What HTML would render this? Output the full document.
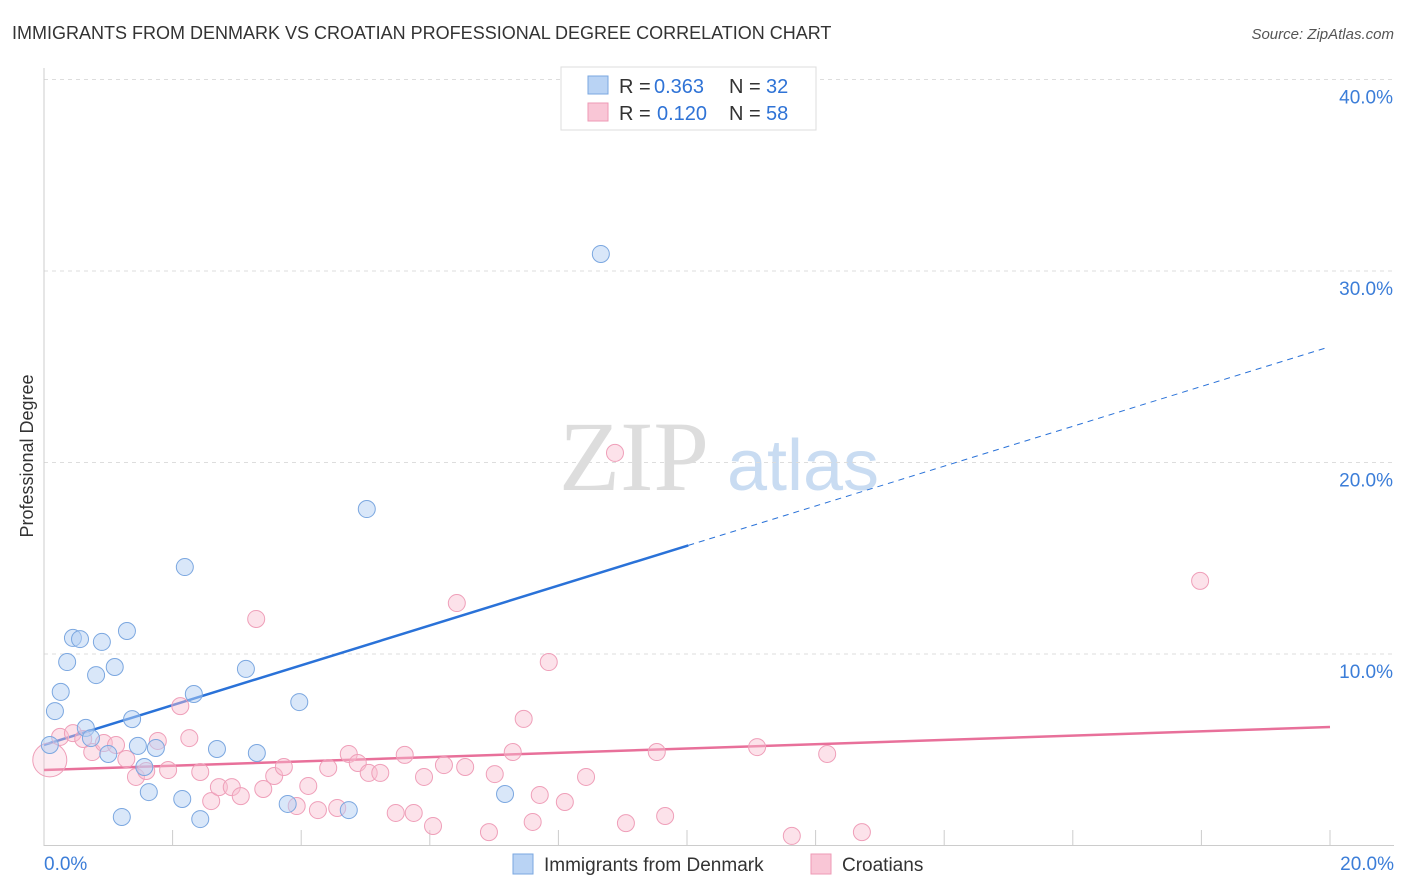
<!DOCTYPE html>
<html><head><meta charset="utf-8"><style>
body{margin:0;background:#fff;font-family:"Liberation Sans",sans-serif;}
#wrap{position:relative;width:1406px;height:892px;overflow:hidden;}
</style></head><body>
<div id="wrap">
<svg id="chart" width="1406" height="892">
<text x="12" y="39" font-size="18" fill="#333">IMMIGRANTS FROM DENMARK VS CROATIAN PROFESSIONAL DEGREE CORRELATION CHART</text>
<text x="1394" y="39" font-size="15" fill="#555" font-style="italic" text-anchor="end">Source: ZipAtlas.com</text>
<text x="33" y="456" font-size="18" fill="#333" text-anchor="middle" transform="rotate(-90 33 456)">Professional Degree</text>
<g>
<text x="634" y="490" font-size="100" fill="#ddd" font-family="Liberation Serif,serif" text-anchor="middle">ZIP</text>
<text x="803" y="490" font-size="72" fill="#c9dcf2" text-anchor="middle">atlas</text>
</g>
<g id="grid"></g><g id="axes"></g><g id="lines"></g><g id="pts"></g>
<g>
<rect x="561" y="67" width="255" height="63" fill="#fff" stroke="#ddd"/>
<rect x="588" y="76" width="20" height="18" fill="#b9d3f4" stroke="#7aa7e0"/>
<rect x="588" y="103" width="20" height="18" fill="#f9c6d6" stroke="#ee9ab5"/>
<text x="619" y="93" font-size="20" fill="#333">R =</text><text x="654" y="93" font-size="20" fill="#2f73d6">0.363</text>
<text x="729" y="93" font-size="20" fill="#333">N =</text><text x="766" y="93" font-size="20" fill="#2f73d6">32</text>
<text x="619" y="120" font-size="20" fill="#333">R =</text><text x="657" y="120" font-size="20" fill="#2f73d6">0.120</text>
<text x="729" y="120" font-size="20" fill="#333">N =</text><text x="766" y="120" font-size="20" fill="#2f73d6">58</text>
</g>
<g>
<rect x="513" y="854" width="20" height="20" fill="#b9d3f4" stroke="#7aa7e0"/>
<text x="544" y="871" font-size="19" fill="#333">Immigrants from Denmark</text>
<rect x="811" y="854" width="20" height="20" fill="#f9c6d6" stroke="#ee9ab5"/>
<text x="842" y="871" font-size="19" fill="#333">Croatians</text>
</g>
</svg>
</div>
<script>
const yTicks=[10,20,30,40];
const yTickLabels=["10.0%","20.0%","30.0%","40.0%"];
const xTickLabels=["0.0%","20.0%"];
const blueX=[.09,.17,.26,.36,.45,.56,.81,.9,1.0,1.1,1.29,1.37,1.46,1.56,1.63,1.74,2.19,2.15,2.33,2.43,2.69,3.14,3.31,3.79,3.97,4.74,5.02,7.17,8.66,1.21,.65,.73];
const blueY=[5.25,7.02,8.02,9.58,10.84,10.78,8.9,10.63,4.78,9.32,11.2,6.6,5.2,4.1,2.79,5.09,14.54,2.43,7.91,1.38,5.04,9.22,4.83,2.17,7.49,1.85,17.57,2.69,30.89,1.49,6.14,5.61];
const pinkX=[.09,.25,.45,.75,.61,.93,1.12,1.28,1.43,1.59,1.77,1.93,2.12,2.26,2.43,2.6,2.72,2.92,3.06,3.3,3.41,3.58,3.73,3.93,4.11,4.26,4.42,4.56,4.74,4.88,5.05,5.23,5.47,5.61,5.75,5.91,6.05,6.22,6.42,6.55,6.92,7.01,7.29,7.46,7.6,7.71,7.85,8.1,8.43,8.88,9.05,9.53,9.66,11.09,11.63,12.18,12.72,17.98];
const pinkY=[4.47,5.67,5.87,4.88,5.56,5.35,5.25,4.52,3.58,3.89,5.46,3.94,7.28,5.61,3.84,2.32,3.05,3.05,2.58,11.83,2.95,3.63,4.1,2.06,3.11,1.85,4.05,1.96,4.78,4.31,3.79,3.79,1.7,4.73,1.7,3.58,1.02,4.2,12.66,4.1,.7,3.73,4.88,6.61,1.23,2.64,9.58,2.27,3.58,20.5,1.17,4.88,1.54,5.14,.5,4.78,.7,13.82];
const blueTrend=[5.25,1.04];   // intercept, slope
const pinkTrend=[3.94,0.1125];
const NS="http://www.w3.org/2000/svg";
const X=v=>44+v*64.3, Y=v=>845.5-v*19.15;
function mk(tag,attrs,parent){const e=document.createElementNS(NS,tag);for(const k in attrs)e.setAttribute(k,attrs[k]);document.getElementById(parent).appendChild(e);return e;}
yTicks.forEach((t,i)=>{
 const l=mk('line',{x1:44,x2:1394,y1:Y(t),y2:Y(t),stroke:'#ddd','stroke-dasharray':'4,4'},'grid');
 
 
 const tx=mk('text',{x:1393,y:Y(t)+24,'font-size':19,fill:'#3b7dd8','text-anchor':'end'},'grid');
 tx.textContent=yTickLabels[i];
 
 
});
mk('line',{x1:44,x2:44,y1:68,y2:846,stroke:'#ccc'},'axes');
const xa=mk('line',{x1:44,x2:1394,y1:845.5,y2:845.5,stroke:'#ccc'},'axes');


for(let i=0;i<=10;i++){const t=mk('line',{x1:X(i*2),x2:X(i*2),y1:830,y2:846,stroke:'#ccc'},'axes');
 
 }
[[0,'start',44],[20,'end',1394]].forEach((d,i)=>{const t=mk('text',{x:d[2],y:870,'font-size':19,fill:'#3b7dd8','text-anchor':d[1]},'axes');t.textContent=xTickLabels[i];
 
 });
const bEnd=Math.max(...blueX)+1.36;
let l1=mk('line',{x1:X(0),y1:Y(blueTrend[0]),x2:X(bEnd),y2:Y(blueTrend[0]+blueTrend[1]*bEnd),stroke:'#2a72d8','stroke-width':2.5},'lines');


let l2=mk('line',{x1:X(bEnd),y1:Y(blueTrend[0]+blueTrend[1]*bEnd),x2:X(19.94),y2:Y(blueTrend[0]+blueTrend[1]*19.94),stroke:'#2a72d8','stroke-width':1,'stroke-dasharray':'6,5'},'lines');


let l3=mk('line',{x1:X(0),y1:Y(pinkTrend[0]),x2:X(20),y2:Y(pinkTrend[0]+pinkTrend[1]*20),stroke:'#e8709a','stroke-width':2.5},'lines');


pinkX.forEach((x,i)=>{const c=mk('circle',{cx:X(x),cy:Y(pinkY[i]),r:i===0?17:8.5,fill:i===0?'rgba(248,190,208,0.3)':'rgba(248,190,208,0.45)',stroke:'#ef9fb9','stroke-width':1},'pts');
 
 });
blueX.forEach((x,i)=>{const c=mk('circle',{cx:X(x),cy:Y(blueY[i]),r:8.5,fill:'rgba(180,208,244,0.5)',stroke:'#7ba7e0','stroke-width':1},'pts');
 
 });
</script>
</body></html>
